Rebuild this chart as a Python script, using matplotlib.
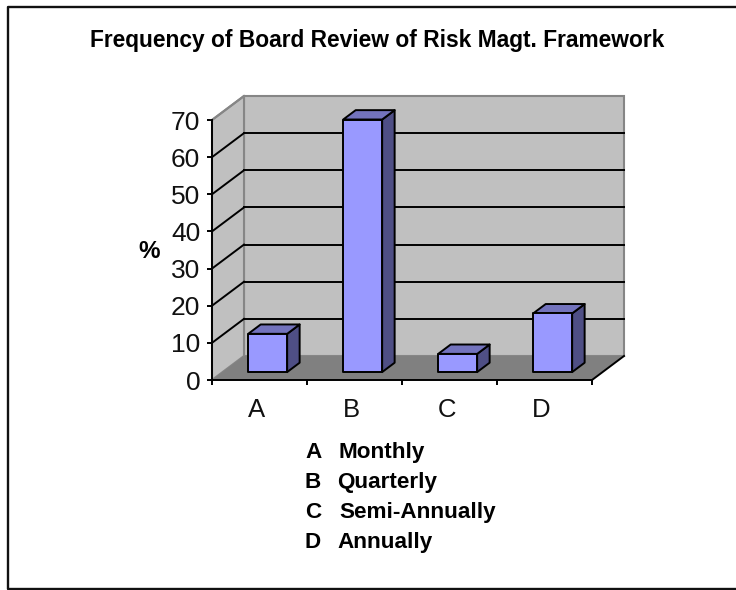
import matplotlib
matplotlib.use("Agg")
import matplotlib.pyplot as plt
from matplotlib.patches import Polygon
from matplotlib.transforms import blended_transform_factory

categories = ['A', 'B', 'C', 'D']
values = [10.3, 68, 4.9, 15.8]
legend_keys = ['A', 'B', 'C', 'D']
legend_names = ['Monthly', 'Quarterly', 'Semi-Annually', 'Annually']
y_ticks = [0, 10, 20, 30, 40, 50, 60, 70]

W, H = 736, 590
plt.rcParams['font.family'] = ['Liberation Sans', 'DejaVu Sans']

fig = plt.figure(figsize=(W / 100, H / 100), dpi=100)
# whole figure in pixels, for the frame and the texts
bg = fig.add_axes([0, 0, 1, 1])
bg.set_xlim(0, W)
bg.set_ylim(H, 0)
bg.axis('off')
# frame runs off the right edge of the picture
bg.plot([W, 8, 8, W], [6.5, 6.5, 589, 589], color='#111111', lw=1.7, clip_on=True)

# front plane of the 3d box: 212..592 px wide, 120..380 px high
ax = fig.add_axes([212 / W, 1 - 380 / H, 380 / W, 260 / H])
ax.set_xlim(0, 4)
ax.set_ylim(0, 70)
ax.patch.set_visible(False)
for side in ['top', 'right']:
    ax.spines[side].set_visible(False)
for side in ['left', 'bottom']:
    ax.spines[side].set_linewidth(1.4)
    ax.spines[side].set_zorder(6)

# depth of the box in data units (about 32 px right, 24 px up)
DX = 32 / 95
DY = 24 / (260 / 70)
LW = 1.4

def project(x, y, t):
    return (x + DX * t, y + DY * t)

def poly(points, **kw):
    p = Polygon(points, closed=True, clip_on=False, **kw)
    ax.add_patch(p)
    return p

wall_edge = '#868686'
poly([project(0, 0, 1), project(4, 0, 1), project(4, 70, 1), project(0, 70, 1)],
     fc='#c0c0c0', ec=wall_edge, lw=1.5, zorder=1)
poly([project(0, 0, 0), project(0, 0, 1), project(0, 70, 1), project(0, 70, 0)],
     fc='#c0c0c0', ec=wall_edge, lw=1.5, zorder=1)
poly([project(0, 0, 0), project(4, 0, 0), project(4, 0, 1), project(0, 0, 1)],
     fc='#808080', ec='none', zorder=2)
# only the right floor edge is black
ax.plot(*zip(project(4, 0, 0), project(4, 0, 1)), color='black', lw=LW, clip_on=False, zorder=3)

for v in y_ticks[1:-1]:
    ax.plot(*zip(project(0, v, 0), project(0, v, 1)), color='black', lw=LW, clip_on=False, zorder=3)
    ax.plot(*zip(project(0, v, 1), project(4, v, 1)), color='black', lw=LW, clip_on=False, zorder=3)
ax.plot(*zip(project(0, 70, 0), project(0, 70, 1)), color=wall_edge, lw=1.5, clip_on=False, zorder=3)

# bars stand inside the floor, from t0 to t1 of the depth
t0, t1 = 0.33, 0.72
bar_w = 0.41
bar_off = 0.27
for i, v in enumerate(values):
    x0 = i + bar_off
    x1 = x0 + bar_w
    z = 4 + i * 0.1
    style = dict(ec='black', lw=LW, joinstyle='round', zorder=z)
    poly([project(x1, 0, t0), project(x1, 0, t1), project(x1, v, t1), project(x1, v, t0)], fc='#4f4f85', **style)
    poly([project(x0, v, t0), project(x1, v, t0), project(x1, v, t1), project(x0, v, t1)], fc='#7373bd', **style)
    poly([project(x0, 0, t0), project(x1, 0, t0), project(x1, v, t0), project(x0, v, t0)], fc='#9999ff', **style)

ax.set_yticks(y_ticks)
ax.set_xticks(range(5))
ax.set_xticklabels([])
ax.tick_params(axis='both', length=3.5, width=LW, direction='out', color='black')
ax.tick_params(axis='y', labelsize=19, pad=5, labelcolor='#111111')
for tick in ax.yaxis.get_major_ticks():
    tick.label1.set_zorder(7)

# category labels sit between the ticks
trans = blended_transform_factory(ax.transData, bg.transData)
for i, c in enumerate(categories):
    ax.text(i + 0.47, 417, c, transform=trans, ha='center', va='baseline', fontsize=18.5, color='#111111')

bg.text(377, 47, 'Frequency of Board Review of Risk Magt. Framework', ha='center', va='baseline',
        fontsize=16.4, fontweight='bold', color='black')
bg.text(149, 252, '%', ha='center', va='center', fontsize=17.5, fontweight='bold', color='black')

legend_y = [458, 488, 518, 548]
legend_x = [339, 337, 339, 337]
for y, x, k, n in zip(legend_y, legend_x, legend_keys, legend_names):
    bg.text(305, y, k, ha='left', va='baseline', fontsize=16.2, fontweight='bold', color='black')
    bg.text(x, y, n, ha='left', va='baseline', fontsize=16.2, fontweight='bold', color='black')

fig.savefig('out.png', dpi=100)
